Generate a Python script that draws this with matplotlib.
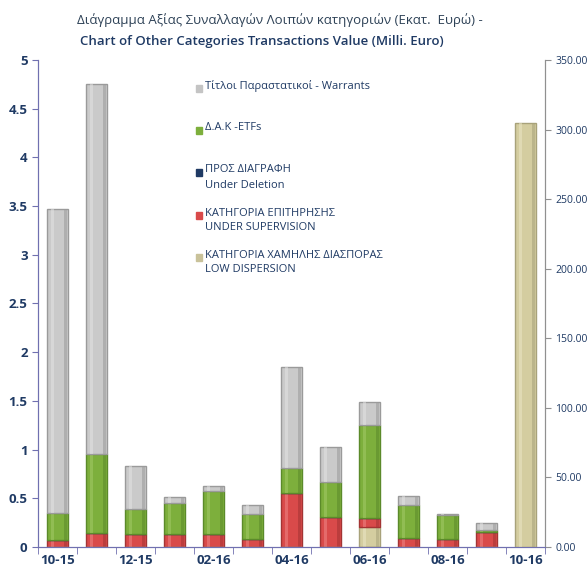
import numpy as np
import matplotlib.pyplot as plt
from matplotlib.patches import Rectangle
from matplotlib.ticker import FormatStrFormatter, FuncFormatter

plt.rcParams['font.family'] = ['Open Sans', 'DejaVu Sans']

# Months (x categories)
months = ['10-15', '11-15', '12-15', '01-16', '02-16', '03-16', '04-16',
          '05-16', '06-16', '07-16', '08-16', '09-16', '10-16']

# Segment values, milli euro (left axis)
low_dispersion = [0, 0, 0, 0, 0, 0, 0, 0, 0.21, 0, 0, 0, 0]
under_supervision = [0.07, 0.14, 0.13, 0.13, 0.13, 0.08, 0.55, 0.31, 0.09, 0.09, 0.08, 0.15, 0]
under_deletion = [0, 0, 0, 0, 0, 0, 0, 0, 0, 0, 0, 0, 0]
etfs = [0.28, 0.81, 0.26, 0.32, 0.44, 0.26, 0.26, 0.36, 0.95, 0.34, 0.25, 0.02, 0]
warrants = [3.12, 3.80, 0.44, 0.06, 0.06, 0.09, 1.04, 0.36, 0.24, 0.09, 0.01, 0.08, 0]

# Low dispersion on the secondary axis (right)
low_dispersion_right = [0, 0, 0, 0, 0, 0, 0, 0, 0, 0, 0, 0, 305.0]

text_col = '#1f3a64'

fig = plt.figure(figsize=(5.88, 5.70), dpi=100)
ax = fig.add_axes([0.0646, 0.0404, 0.8624, 0.8543])
ax2 = ax.twinx()

x = np.arange(len(months))
w = 0.56


def shaded_bar(a, vals, bottom, col, dark, light):
    # main body, then a darker right stripe and a lighter left stripe
    a.bar(x, vals, w, bottom=bottom, color=col, edgecolor=dark, linewidth=1.0)
    a.bar(x + w * 0.36, vals, w * 0.14, bottom=bottom, color=dark, alpha=0.55, linewidth=0)
    a.bar(x - w * 0.22, vals, w * 0.12, bottom=bottom, color=light, alpha=0.5, linewidth=0)


series = [
    (low_dispersion, '#d4cda0', '#a8a27a', '#ece8c8'),
    (under_supervision, '#d94a4a', '#a33434', '#ef8a8a'),
    (under_deletion, '#1f3a64', '#1f3a64', '#1f3a64'),
    (etfs, '#7daf3c', '#5b8a2a', '#a6cc6a'),
    (warrants, '#cacaca', '#9a9a9a', '#e4e4e4'),
]
bottom = np.zeros(len(months))
for vals, col, dark, light in series:
    vals = np.array(vals)
    shaded_bar(ax, vals, bottom, col, dark, light)
    bottom += vals

shaded_bar(ax2, np.array(low_dispersion_right), 0, '#d4cda0', '#a8a27a', '#ece8c8')

ax.set_xlim(-0.5, len(months) - 0.5)
ax.set_ylim(0, 5)
ax2.set_ylim(0, 350)
ax.set_yticks(np.arange(0, 5.01, 0.5))
ax.yaxis.set_major_formatter(FuncFormatter(lambda v, p: '%g' % v))
ax2.set_yticks(np.arange(0, 351, 50))
ax2.yaxis.set_major_formatter(FormatStrFormatter('%.2f'))

ax.set_xticks(x[::2])
ax.set_xticklabels(months[::2])
ax.set_xticks(np.arange(-0.5, len(months), 1), minor=True)
ax.tick_params(axis='x', which='major', length=0, pad=5, labelsize=9.5, labelcolor=text_col)
ax.tick_params(axis='x', which='minor', length=5, color='#7070b0', direction='out')
ax.tick_params(axis='y', length=4, color='#7070b0', labelsize=9.5, labelcolor=text_col)
ax2.tick_params(axis='y', length=4, color='#909090', labelsize=7.5, labelcolor=text_col)
for lab in ax.get_xticklabels() + ax.get_yticklabels():
    lab.set_fontweight('bold')

for a in (ax, ax2):
    a.spines['top'].set_visible(False)
    a.spines['left'].set_color('#7070b0')
    a.spines['bottom'].set_color('#7070b0')
    a.spines['right'].set_color('#909090')

fig.text(0.131, 0.965, 'Διάγραμμα Αξίας Συναλλαγών Λοιπών κατηγοριών (Εκατ.  Ευρώ) -',
         fontsize=9.5, color='#2e4257', va='center', ha='left')
fig.text(0.136, 0.928, 'Chart of Other Categories Transactions Value (Milli. Euro)',
         fontsize=9.5, color='#1f3a64', fontweight='semibold', va='center', ha='left')

# legend
legend_items = [
    ('#c4c4c4', 'Τίτλοι Παραστατικοί - Warrants', 88),
    ('#7daf3c', 'Δ.Α.Κ -ETFs', 130),
    ('#1f3a64', 'ΠΡΟΣ ΔΙΑΓΡΑΦΗ\nUnder Deletion', 172),
    ('#d94a4a', 'ΚΑΤΗΓΟΡΙΑ ΕΠΙΤΗΡΗΣΗΣ\nUNDER SUPERVISION', 215),
    ('#c9c29a', 'ΚΑΤΗΓΟΡΙΑ ΧΑΜΗΛΗΣ ΔΙΑΣΠΟΡΑΣ\nLOW DISPERSION', 257),
]
for col, label, ypx in legend_items:
    yf = 1 - ypx / 570
    fig.patches.append(Rectangle((196 / 588, yf - 3.5 / 570), 6 / 588, 7 / 570,
                                 transform=fig.transFigure, color=col))
    fig.text(205 / 588, yf + 7.5 / 570, label, fontsize=8, color=text_col,
             va='top', ha='left', linespacing=1.5)

fig.savefig('out.png', dpi=100)
